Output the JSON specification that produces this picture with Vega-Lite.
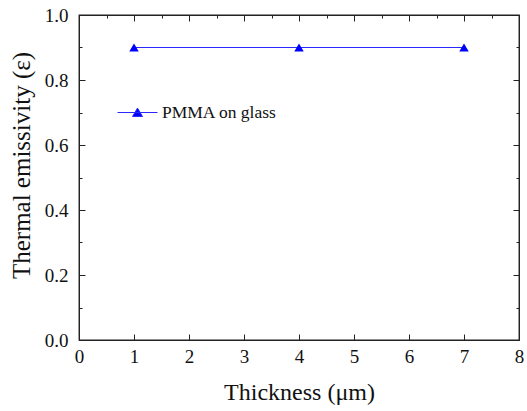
{
  "$schema": "https://vega.github.io/schema/vega-lite/v6.json",
  "padding": {"left": 8, "top": 5, "right": 7, "bottom": 0},
  "spacing": 0,
  "background": "white",
  "config": {
    "view": {"stroke": "#222222", "strokeWidth": 1.3},
    "font": "Liberation Serif",
    "axis": {
      "grid": false,
      "domainColor": "#222222",
      "labelColor": "#111111",
      "titleColor": "#111111",
      "labelFont": "Liberation Serif",
      "titleFont": "Liberation Serif",
      "labelFontSize": 19,
      "titleFontSize": 24,
      "titleFontWeight": "normal",
      "labelFlush": false,
      "labelOverlap": false
    }
  },
  "data": {
    "values": [
      {"thickness": 1, "emissivity": 0.9, "series": "PMMA on glass"},
      {"thickness": 4, "emissivity": 0.9, "series": "PMMA on glass"},
      {"thickness": 7, "emissivity": 0.9, "series": "PMMA on glass"}
    ]
  },
  "vconcat": [
    {
      "width": 440,
      "height": 325,
      "layer": [
        {
          "mark": {"type": "line", "strokeWidth": 1.1},
          "encoding": {
            "x": {
              "field": "thickness", "type": "quantitative",
              "scale": {"domain": [0, 8], "nice": false, "zero": false},
              "axis": {
                "values": [0, 0.5, 1, 1.5, 2, 2.5, 3, 3.5, 4, 4.5, 5, 5.5, 6, 6.5, 7, 7.5, 8],
                "format": "d",
                "labelExpr": "datum.value % 1 === 0 ? datum.label : ''",
                "tickColor": "#222222",
                "tickSize": {"condition": {"test": "datum.value % 1 === 0", "value": -6}, "value": -3},
                "labelPadding": 13,
                "title": "Thickness (μm)",
                "titlePadding": 14
              }
            },
            "y": {
              "field": "emissivity", "type": "quantitative",
              "scale": {"domain": [0, 1], "nice": false, "zero": false},
              "axis": {
                "values": [0, 0.1, 0.2, 0.3, 0.4, 0.5, 0.6, 0.7, 0.8, 0.9, 1.0],
                "format": ".1f",
                "labelExpr": "round(datum.value * 10) % 2 === 0 ? datum.label : ''",
                "tickColor": "#222222",
                "tickSize": {"condition": {"test": "round(datum.value * 10) % 2 === 0", "value": -6}, "value": -3},
                "labelPadding": 17,
                "title": "Thermal emissivity (ε)",
                "titleFontSize": 25,
                "titleY": 150,
                "titlePadding": 10
              }
            },
            "color": {
              "field": "series", "type": "nominal",
              "scale": {"range": ["#2a2aff"]},
              "legend": {
                "orient": "none",
                "legendX": 38,
                "legendY": 77,
                "title": null,
                "symbolType": "M-1,0H1M-0.25,0.2L0,-0.22L0.25,0.2Z",
                "symbolSize": 1600,
                "symbolFillColor": "#0000ff",
                "symbolStrokeColor": "#2a2aff",
                "symbolStrokeWidth": 1,
                "labelFont": "Liberation Serif",
                "labelFontSize": 17.5,
                "labelColor": "#111111",
                "labelOffset": 4
              }
            }
          }
        },
        {
          "mark": {"type": "point", "shape": "triangle-up", "filled": true, "size": 90, "color": "#0000ff", "opacity": 1},
          "encoding": {
            "x": {
              "field": "thickness", "type": "quantitative",
              "axis": {
                "orient": "top",
                "values": [0, 0.5, 1, 1.5, 2, 2.5, 3, 3.5, 4, 4.5, 5, 5.5, 6, 6.5, 7, 7.5, 8],
                "labels": false,
                "title": null,
                "tickColor": "#222222",
                "tickSize": {"condition": {"test": "datum.value % 1 === 0", "value": -6}, "value": -3}
              }
            },
            "y": {
              "field": "emissivity", "type": "quantitative",
              "axis": {
                "orient": "right",
                "values": [0, 0.1, 0.2, 0.3, 0.4, 0.5, 0.6, 0.7, 0.8, 0.9, 1.0],
                "labels": false,
                "title": null,
                "tickColor": "#222222",
                "tickSize": {"condition": {"test": "round(datum.value * 10) % 2 === 0", "value": -6}, "value": -3}
              }
            }
          }
        }
      ],
      "resolve": {"axis": {"x": "independent", "y": "independent"}}
    }
  ]
}
